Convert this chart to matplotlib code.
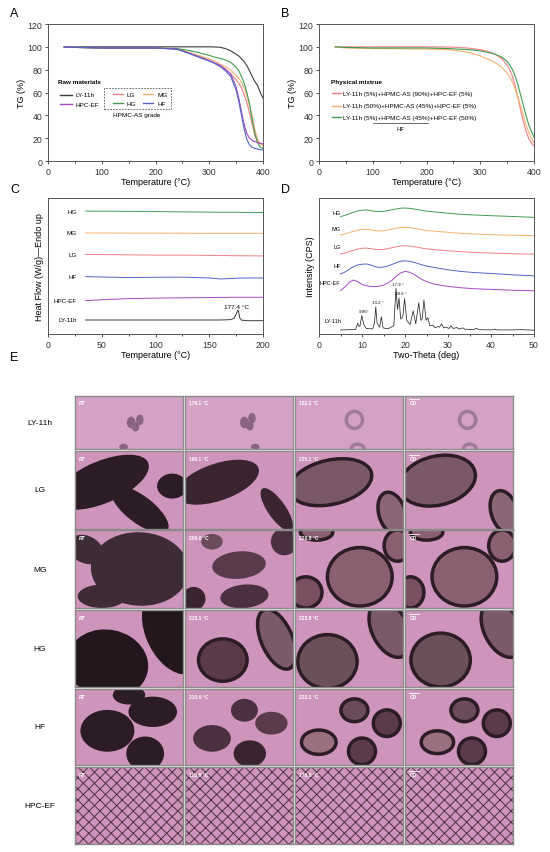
import matplotlib
matplotlib.use("Agg")
import matplotlib.pyplot as plt
from matplotlib.patches import Ellipse, Rectangle
from matplotlib.ticker import MultipleLocator

plt.rcParams['font.family'] = ['Liberation Sans', 'DejaVu Sans']
plt.rcParams['hatch.linewidth'] = 0.7

# ---- A: TG raw materials ----
tg_T = [30, 50, 100, 150, 200, 240, 260, 280, 300, 310, 320, 330, 340, 350,
        355, 360, 365, 370, 375, 380, 385, 390, 395, 400]
tg_ly = [100, 100, 100, 100, 100, 100, 100, 100, 100, 99.9, 99.6, 98.5, 96.5, 93.5,
         92, 89.5, 87, 83.5, 79, 74, 69.5, 66, 60, 55]
tg_lg = [100, 99.5, 99, 99, 99, 98, 95, 91.5, 88, 85.5, 83, 80, 76.5, 71,
         68, 64, 58, 51, 42, 32, 22, 17, 15.5, 15]
tg_mg = [100, 99.5, 99, 99, 99, 98, 95.5, 92.5, 89.5, 87.5, 85, 82.5, 79.5, 75,
         72.5, 69, 64, 57, 48, 39, 27, 19, 15, 13]
tg_hg = [100, 99.5, 99, 99, 99, 98.5, 97, 95, 92.5, 91, 90, 88.5, 86.5, 82,
         79, 74, 68, 60, 50, 36, 24, 16, 12, 11]
tg_hf = [100, 99.5, 99, 99, 99, 98, 94.5, 91, 87.5, 85.5, 83, 79, 74, 62,
         52, 40, 28, 19, 14, 12, 11, 10.5, 10, 9.5]
tg_hpc = [100, 99.5, 99, 99, 99, 98, 95, 91.5, 88, 86, 84, 80.5, 76, 65,
          55, 43, 32, 24, 20, 18, 17, 16, 15.5, 15]

# ---- B: TG physical mixtures ----
pm_a = [100, 100, 100, 100, 100, 99.8, 99.5, 98.8, 97.5, 96.5, 95, 93, 89.5, 84,
        80, 74, 66, 56, 45, 35, 26, 20, 16, 13]
pm_b = [100, 99, 98.5, 98.3, 98, 97.5, 96.5, 95, 92, 90, 88, 85.5, 82, 77,
        73.5, 69, 63, 56, 48, 40, 32, 25, 20, 16]
pm_c = [100, 99.5, 99, 99, 99, 98.5, 98, 97.5, 96.5, 95.5, 94.5, 93, 91, 87,
        84, 80, 74, 67, 58, 49, 40, 32, 26, 21]
pm_labels = ["LY-11h (5%)+HPMC-AS (90%)+HPC-EF (5%)",
             "LY-11h (50%)+HPMC-AS (45%)+HPC-EF (5%)",
             "LY-11h (5%)+HPMC-AS (45%)+HPC-EF (50%)"]

# ---- C: DSC (offset curves) ----
dsc_T = [35, 50, 75, 100, 125, 150, 160, 165, 170, 173, 175, 176.5, 177.4, 178.3, 180, 185, 200]
dsc_hg = [9.04, 9.03, 9.02, 9.0, 8.98, 8.96, 8.95, 8.95, 8.95, 8.95, 8.95, 8.95, 8.95, 8.95, 8.94, 8.94, 8.93]
dsc_mg = [7.43, 7.43, 7.42, 7.42, 7.41, 7.4, 7.4, 7.4, 7.4, 7.4, 7.4, 7.4, 7.4, 7.4, 7.4, 7.4, 7.4]
dsc_lg = [5.85, 5.84, 5.82, 5.8, 5.8, 5.78, 5.77, 5.77, 5.76, 5.76, 5.76, 5.76, 5.76, 5.75, 5.75, 5.75, 5.74]
dsc_hf = [4.22, 4.19, 4.15, 4.17, 4.18, 4.12, 4.05, 4.06, 4.08, 4.09, 4.1, 4.1, 4.1, 4.11, 4.11, 4.12, 4.12]
dsc_hpc = [2.45, 2.52, 2.6, 2.64, 2.66, 2.68, 2.69, 2.69, 2.7, 2.7, 2.7, 2.7, 2.7, 2.7, 2.7, 2.7, 2.7]
dsc_ly = [1.03, 1.03, 1.03, 1.03, 1.03, 1.03, 1.03, 1.04, 1.06, 1.15, 1.45, 1.76, 1.62, 1.2, 1.02, 0.98, 0.98]
dsc_peak = 177.4

# ---- D: XRD (offset curves) ----
xrd_x = [5, 6, 7, 8, 9, 10, 11, 12, 13, 14, 15, 16, 17, 18, 19, 20, 21, 22, 23, 24, 25,
         27, 30, 33, 36, 40, 45, 50]
xrd_hpc = [3.2, 3.45, 3.8, 3.97, 3.85, 3.65, 3.55, 3.5, 3.48, 3.52, 3.6, 3.75, 3.95, 4.25,
           4.5, 4.6, 4.55, 4.4, 4.2, 4.0, 3.85, 3.65, 3.5, 3.4, 3.33, 3.28, 3.22, 3.18]
xrd_hf = [4.41, 4.55, 4.75, 4.95, 5.08, 5.13, 5.15, 5.08, 4.95, 4.9, 4.92, 5.0, 5.12, 5.25,
          5.35, 5.38, 5.35, 5.28, 5.18, 5.08, 5.0, 4.88, 4.72, 4.6, 4.52, 4.45, 4.35, 4.28]
xrd_lg = [5.88, 5.95, 6.05, 6.15, 6.25, 6.3, 6.32, 6.28, 6.22, 6.2, 6.22, 6.27, 6.35, 6.42,
          6.47, 6.49, 6.47, 6.43, 6.37, 6.31, 6.26, 6.2, 6.12, 6.05, 6.0, 5.95, 5.9, 5.87]
xrd_mg = [7.28, 7.35, 7.45, 7.55, 7.63, 7.68, 7.69, 7.66, 7.6, 7.57, 7.59, 7.64, 7.71, 7.78,
          7.83, 7.84, 7.82, 7.78, 7.72, 7.66, 7.61, 7.55, 7.48, 7.4, 7.35, 7.3, 7.26, 7.23]
xrd_hg = [8.63, 8.72, 8.83, 8.95, 9.05, 9.1, 9.12, 9.08, 9.02, 9.0, 9.02, 9.07, 9.14, 9.2,
          9.25, 9.26, 9.24, 9.2, 9.14, 9.08, 9.03, 8.97, 8.88, 8.8, 8.75, 8.7, 8.64, 8.58]
ly_x = [5, 8.5, 8.8, 9.0, 9.2, 9.5, 9.96, 10.4, 11, 12.5, 12.9, 13.2, 13.5, 14.1, 14.5, 14.9,
        16, 17.4, 17.9, 18.25, 18.6, 19.0, 19.5, 19.9, 20.4, 21.2, 21.9, 22.5, 23.2, 23.7,
        24.0, 24.4, 24.9, 25.3, 25.8, 26.5, 27.0, 27.6, 28.0, 28.5, 29.0, 29.6, 30.2, 30.7,
        31.2, 32.0, 32.6, 33.4, 34, 36, 36.6, 37.2, 40, 41, 41.5, 45, 47, 50]
ly_y = [0.3, 0.33, 0.6, 0.8, 0.6, 0.55, 1.35, 0.7, 0.4, 0.38, 0.8, 2.0, 0.8, 0.5, 1.27, 0.45,
        0.38, 0.6, 3.36, 1.8, 2.65, 1.1, 1.3, 2.6, 1.0, 0.7, 1.7, 0.75, 2.3, 1.0,
        1.1, 2.5, 1.0, 1.2, 0.6, 0.65, 0.45, 0.55, 0.5, 0.75, 0.45, 0.5, 0.4, 0.6,
        0.4, 0.48, 0.36, 0.45, 0.35, 0.33, 0.42, 0.32, 0.3, 0.35, 0.3, 0.3, 0.32, 0.28]
ly_peaks = [(9.96, "9.96°"), (13.2, "13.2 °"), (17.9, "17.9 °"), (18.6, "18.6 °")]

# ---- E: hot-stage microscopy ----
hsm_rows = ["LY-11h", "LG", "MG", "HG", "HF", "HPC-EF"]
hsm_temps = [["RT", "179.1 °C", "182.2 °C", "CD"],
             ["RT", "198.1 °C", "225.1 °C", "CD"],
             ["RT", "206.0 °C", "220.8 °C", "CD"],
             ["RT", "215.1 °C", "223.8 °C", "CD"],
             ["RT", "210.0 °C", "222.1 °C", "CD"],
             ["RT", "110.6 °C", "170.6 °C", "CD"]]

c_ly, c_lg, c_mg, c_hg, c_hf, c_hpc = "#3c3c3c", "#f27f86", "#f4b26c", "#3f9b4f", "#5562c6", "#a546c2"
W, H = 550, 853

fig = plt.figure(figsize=(W / 100, H / 100), dpi=100)


def px_axes(x0, y0, x1, y1):
    return fig.add_axes([x0 / W, 1 - y1 / H, (x1 - x0) / W, (y1 - y0) / H])


def style(ax):
    for s in ax.spines.values():
        s.set_color("#555555")
        s.set_linewidth(0.7)
    ax.tick_params(labelsize=6.3, length=2.5, width=0.6, pad=1.5, colors="#333333")
    ax.tick_params(which="minor", length=1.5, width=0.5)


lw = 0.8
# A
ax = px_axes(48, 25, 263, 162)
style(ax)
ax.plot(tg_T, tg_ly, color=c_ly, lw=lw)
ax.plot(tg_T, tg_lg, color=c_lg, lw=lw)
ax.plot(tg_T, tg_mg, color=c_mg, lw=lw)
ax.plot(tg_T, tg_hg, color=c_hg, lw=lw)
ax.plot(tg_T, tg_hpc, color=c_hpc, lw=lw)
ax.plot(tg_T, tg_hf, color=c_hf, lw=lw)
ax.set_xlim(0, 400)
ax.set_ylim(0, 120)
ax.xaxis.set_major_locator(MultipleLocator(100))
ax.xaxis.set_minor_locator(MultipleLocator(50))
ax.yaxis.set_major_locator(MultipleLocator(20))
ax.set_xlabel("Temperature (°C)", fontsize=6.5, labelpad=1)
ax.set_ylabel("TG (%)", fontsize=6.5, labelpad=1)
tr = ax.transAxes
ax.text(0.047, 0.577, "Raw materials", transform=tr, fontsize=4.6, fontweight="bold", va="center")
for yy, col, lab in [(0.482, c_ly, "LY-11h"), (0.416, c_hpc, "HPC-EF")]:
    ax.plot([0.056, 0.112], [yy, yy], color=col, lw=1.0, transform=tr)
    ax.text(0.126, yy, lab, transform=tr, fontsize=4.6, va="center")
ax.add_patch(Rectangle((0.26, 0.38), 0.312, 0.153, transform=tr, fill=False,
                       ls=(0, (2, 1.5)), lw=0.6, ec="#555555"))
for xx, yy, col, lab in [(0.302, 0.489, c_lg, "LG"), (0.442, 0.489, c_mg, "MG"),
                         (0.302, 0.423, c_hg, "HG"), (0.442, 0.423, c_hf, "HF")]:
    ax.plot([xx, xx + 0.047], [yy, yy], color=col, lw=1.0, transform=tr)
    ax.text(xx + 0.065, yy, lab, transform=tr, fontsize=4.6, va="center")
ax.text(0.414, 0.343, "HPMC-AS grade", transform=tr, fontsize=4.6, ha="center", va="center")
fig.text(10 / W, 1 - 14 / H, "A", fontsize=9, va="center")

# B
ax = px_axes(319, 25, 534, 162)
style(ax)
ax.plot(tg_T, pm_a, color=c_lg, lw=lw)
ax.plot(tg_T, pm_b, color=c_mg, lw=lw)
ax.plot(tg_T, pm_c, color=c_hg, lw=lw)
ax.set_xlim(0, 400)
ax.set_ylim(0, 120)
ax.xaxis.set_major_locator(MultipleLocator(100))
ax.xaxis.set_minor_locator(MultipleLocator(50))
ax.yaxis.set_major_locator(MultipleLocator(20))
ax.set_xlabel("Temperature (°C)", fontsize=6.5, labelpad=1)
ax.set_ylabel("TG (%)", fontsize=6.5, labelpad=1)
tr = ax.transAxes
ax.text(0.056, 0.577, "Physical mixtrue", transform=tr, fontsize=4.6, fontweight="bold", va="center")
for yy, col, lab in zip([0.494, 0.404, 0.319], [c_lg, c_mg, c_hg], pm_labels):
    ax.plot([0.06, 0.10], [yy, yy], color=col, lw=1.0, transform=tr)
    ax.text(0.112, yy, lab, transform=tr, fontsize=4.6, va="center")
ax.plot([0.253, 0.505], [0.276, 0.276], color="#333333", lw=0.5, transform=tr)
ax.text(0.38, 0.235, "HF", transform=tr, fontsize=4.3, ha="center", va="center")
fig.text(281 / W, 1 - 14 / H, "B", fontsize=9, va="center")

# C
ax = px_axes(48, 199, 263, 335)
style(ax)
for ys, col, lab in [(dsc_hg, c_hg, "HG"), (dsc_mg, c_mg, "MG"), (dsc_lg, c_lg, "LG"),
                     (dsc_hf, c_hf, "HF"), (dsc_hpc, c_hpc, "HPC-EF"), (dsc_ly, c_ly, "LY-11h")]:
    ax.plot(dsc_T, ys, color=col, lw=0.7)
    ax.text(27, ys[0], lab, fontsize=4.5, ha="right", va="center")
ax.text(dsc_peak - 2.5, 2.0, f"{dsc_peak} °C", fontsize=4.6, ha="center", va="center")
ax.set_xlim(0, 200)
ax.set_ylim(0, 10)
ax.set_yticks([])
ax.xaxis.set_major_locator(MultipleLocator(50))
ax.xaxis.set_minor_locator(MultipleLocator(25))
ax.set_xlabel("Temperature (°C)", fontsize=6.5, labelpad=1)
ax.set_ylabel("Heat Flow (W/g)\u2014Endo up", fontsize=6.5, labelpad=3)
fig.text(10 / W, 1 - 190 / H, "C", fontsize=9, va="center")

# D
ax = px_axes(319, 199, 534, 335)
style(ax)
for ys, col, lab, ly in [(xrd_hg, c_hg, "HG", 8.9), (xrd_mg, c_mg, "MG", 7.77),
                         (xrd_lg, c_lg, "LG", 6.4), (xrd_hf, c_hf, "HF", 5.0),
                         (xrd_hpc, c_hpc, "HPC-EF", 3.8)]:
    ax.plot(xrd_x, ys, color=col, lw=0.7)
    ax.text(5.0, ly, lab, fontsize=4.0, ha="right", va="center")
ax.plot(ly_x, ly_y, color="#2a2a2a", lw=0.55)
ax.text(5.2, 1.0, "LY-11h", fontsize=4.0, ha="right", va="center")
for px_, lab in ly_peaks:
    top = ly_y[ly_x.index(px_)]
    ax.text(px_ + 0.5, top + 0.2, lab, fontsize=3.2, ha="center", va="bottom")
ax.set_xlim(0, 50)
ax.set_ylim(0, 10)
ax.set_yticks([])
ax.xaxis.set_major_locator(MultipleLocator(10))
ax.xaxis.set_minor_locator(MultipleLocator(5))
ax.set_xlabel("Two-Theta (deg)", fontsize=6.5, labelpad=1)
ax.set_ylabel("Intensity (CPS)", fontsize=6.5, labelpad=3)
fig.text(281 / W, 1 - 190 / H, "D", fontsize=9, va="center")

# E: micrograph grid (sketched)
fig.text(10 / W, 1 - 358 / H, "E", fontsize=9, va="center")
col_x = [(75, 183), (185, 293), (295, 403), (405, 513)]
row_y = [(397, 450), (452, 530), (531, 609), (611, 688), (690, 766), (768, 845)]
pink = "#cf94bb"
dark = "#2b1c25"
# rough crystal outlines per row/column: (cx, cy, w, h, angle, face, edge)
blobs = {
    (0, 0): [(0.52, 0.5, 0.08, 0.22, 0, "#8a6481", None), (0.6, 0.55, 0.07, 0.2, 0, "#8a6481", None),
             (0.56, 0.42, 0.07, 0.18, 0, "#8a6481", None), (0.45, 0.04, 0.08, 0.12, 0, "#8a6481", None)],
    (0, 1): [(0.55, 0.5, 0.08, 0.22, 0, "#8a6481", None), (0.62, 0.58, 0.07, 0.2, 0, "#8a6481", None),
             (0.6, 0.44, 0.07, 0.18, 0, "#8a6481", None), (0.65, 0.04, 0.08, 0.12, 0, "#8a6481", None)],
    (0, 2): [(0.55, 0.55, 0.15, 0.32, 0, "none", "#a07a96"), (0.58, 0.0, 0.12, 0.18, 0, "none", "#a07a96")],
    (0, 3): [(0.58, 0.55, 0.15, 0.32, 0, "none", "#a07a96"), (0.6, 0.0, 0.12, 0.18, 0, "none", "#a07a96")],
    (1, 0): [(0.25, 0.6, 1.0, 0.5, 35, dark, None), (0.6, 0.25, 0.75, 0.3, -50, dark, None),
             (0.9, 0.55, 0.28, 0.32, 0, dark, None)],
    (1, 1): [(0.3, 0.6, 0.85, 0.45, 30, "#3a2430", None), (0.85, 0.25, 0.18, 0.6, 25, "#3a2430", None)],
    (1, 2): [(0.33, 0.6, 0.8, 0.55, 25, "#7a5868", dark), (0.9, 0.2, 0.25, 0.55, 10, "#8a6676", dark)],
    (1, 3): [(0.3, 0.62, 0.75, 0.6, 35, "#7a5868", dark), (0.92, 0.22, 0.25, 0.55, 10, "#8a6676", dark)],
    (2, 0): [(0.6, 0.5, 0.9, 0.95, 20, "#3d2b35", None), (0.1, 0.75, 0.3, 0.4, 30, "#3d2b35", None),
             (0.25, 0.15, 0.45, 0.3, 0, "#3d2b35", None)],
    (2, 1): [(0.5, 0.55, 0.5, 0.35, 10, "#5a3b4b", None), (0.55, 0.15, 0.45, 0.3, 10, "#4a3040", None),
             (0.08, 0.12, 0.22, 0.3, 0, "#3a2430", None), (0.92, 0.85, 0.25, 0.35, 0, "#4a3040", None),
             (0.25, 0.85, 0.2, 0.2, 0, "#6a4b5b", None)],
    (2, 2): [(0.6, 0.4, 0.6, 0.75, 0, "#8a6070", dark), (0.1, 0.2, 0.3, 0.4, 0, "#7a5060", dark),
             (0.95, 0.8, 0.25, 0.4, 0, "#8a6070", dark), (0.2, 0.97, 0.3, 0.2, 0, "#8a6070", dark)],
    (2, 3): [(0.55, 0.4, 0.6, 0.75, 0, "#8a6070", dark), (0.05, 0.2, 0.25, 0.4, 0, "#7a5060", dark),
             (0.9, 0.8, 0.25, 0.4, 0, "#8a6070", dark), (0.2, 0.97, 0.3, 0.2, 0, "#8a6070", dark)],
    (3, 0): [(0.3, 0.3, 0.75, 0.9, 10, "#24161d", None), (0.9, 0.7, 0.5, 1.1, 15, "#24161d", None)],
    (3, 1): [(0.35, 0.35, 0.45, 0.55, 0, "#5a3a48", dark), (0.85, 0.62, 0.3, 0.8, 15, "#7a5a68", dark)],
    (3, 2): [(0.3, 0.33, 0.55, 0.7, 0, "#6a5058", dark), (0.88, 0.75, 0.35, 0.75, 15, "#7a5a68", dark)],
    (3, 3): [(0.33, 0.35, 0.55, 0.7, 0, "#6a5058", dark), (0.9, 0.75, 0.35, 0.75, 15, "#7a5a68", dark)],
    (4, 0): [(0.3, 0.45, 0.5, 0.55, 0, dark, None), (0.72, 0.7, 0.45, 0.4, 0, dark, None),
             (0.65, 0.15, 0.35, 0.45, 0, dark, None), (0.5, 0.92, 0.3, 0.25, 0, dark, None)],
    (4, 1): [(0.25, 0.35, 0.35, 0.35, 20, "#4a3040", None), (0.55, 0.72, 0.25, 0.3, 0, "#4a3040", None),
             (0.8, 0.55, 0.3, 0.3, 0, "#5a3a4b", None), (0.6, 0.15, 0.3, 0.35, 0, "#3a2430", None)],
    (4, 2): [(0.22, 0.3, 0.32, 0.32, 20, "#9a7080", dark), (0.55, 0.72, 0.25, 0.3, 0, "#6a4b5b", dark),
             (0.85, 0.55, 0.25, 0.35, 0, "#5a3a4b", dark), (0.62, 0.18, 0.25, 0.35, 0, "#5a3a4b", dark)],
    (4, 3): [(0.3, 0.3, 0.3, 0.3, 20, "#9a7080", dark), (0.55, 0.72, 0.25, 0.3, 0, "#6a4b5b", dark),
             (0.85, 0.55, 0.25, 0.35, 0, "#5a3a4b", dark), (0.62, 0.18, 0.25, 0.35, 0, "#5a3a4b", dark)],
}

for r, (y0, y1) in enumerate(row_y):
    fig.text(40 / W, 1 - ((y0 + y1) / 2) / H, hsm_rows[r], fontsize=6, ha="center", va="center")
    for c, (x0, x1) in enumerate(col_x):
        ax = px_axes(x0, y0, x1, y1)
        ax.set_xlim(0, 1)
        ax.set_ylim(0, 1)
        ax.set_xticks([])
        ax.set_yticks([])
        for s in ax.spines.values():
            s.set_color("#8a8a8a")
            s.set_linewidth(1.0)
        face = "#d5a2c6" if r == 0 else pink
        ax.add_patch(Rectangle((0, 0), 1, 1, facecolor=face, edgecolor="none"))
        if r == 5:
            ax.add_patch(Rectangle((0, 0), 1, 1, facecolor="none", edgecolor="#4e3142",
                                   hatch="xxx", lw=0))
        for cx, cy, w, h, ang, fc, ec in blobs.get((r, c), []):
            ax.add_patch(Ellipse((cx, cy), w, h, angle=ang, facecolor=fc,
                                 edgecolor=ec if ec else "none", lw=2.5 if ec else 0))
        lab = hsm_temps[r][c]
        ax.text(0.04, 0.93, lab, fontsize=3.6, color="white", fontweight="bold",
                ha="left", va="top", style="italic" if lab == "RT" else "normal")
        if lab == "CD":
            ax.plot([0.04, 0.13], [0.95, 0.95], color="white", lw=0.6)

fig.savefig("out.png", dpi=100)
